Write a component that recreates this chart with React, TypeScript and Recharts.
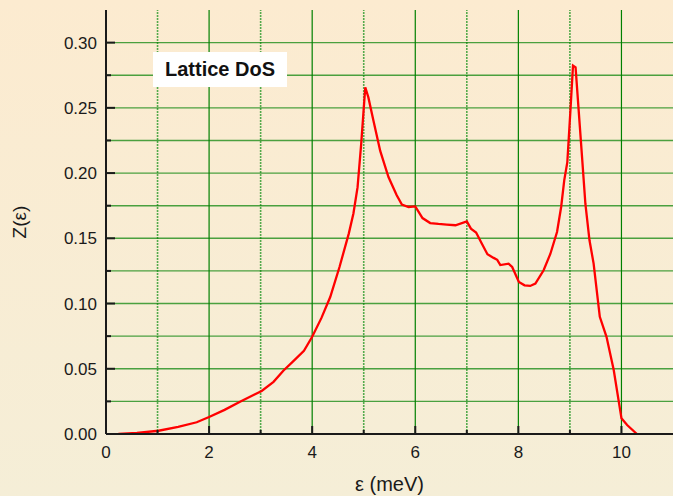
import React from 'react';
import { LineChart, Line, XAxis, YAxis, ReferenceLine } from 'recharts';

const energy = [
  0.24, 0.6, 1.02, 1.4, 1.76, 2.0, 2.3, 2.6, 3.02, 3.25,
  3.44, 3.64, 3.84, 4.0, 4.18, 4.35, 4.53, 4.71, 4.8, 4.88,
  4.95, 5.03, 5.09, 5.19, 5.32, 5.48, 5.64, 5.74, 5.87, 6.0,
  6.14, 6.29, 6.45, 6.61, 6.78, 7.0, 7.08, 7.18, 7.29, 7.4,
  7.52, 7.59, 7.65, 7.81, 7.88, 8.01, 8.12, 8.23, 8.33, 8.49,
  8.62, 8.75, 8.83, 8.89, 8.95, 9.01, 9.06, 9.11, 9.17, 9.24,
  9.3, 9.38, 9.46, 9.58, 9.71, 9.85, 10.0, 10.11, 10.3,
];
const dos = [
  0, 0.0008, 0.0025, 0.0055, 0.009, 0.013, 0.0185, 0.0247, 0.033, 0.04,
  0.0485, 0.056, 0.0638, 0.0745, 0.089, 0.105, 0.128, 0.1536, 0.169, 0.189,
  0.222, 0.2658, 0.258, 0.24, 0.217, 0.197, 0.183, 0.1758, 0.174, 0.1745,
  0.1655, 0.1617, 0.161, 0.1605, 0.16, 0.163, 0.1574, 0.1544, 0.146, 0.1378,
  0.135, 0.1335, 0.1295, 0.1306, 0.128, 0.1166, 0.114, 0.1135, 0.1153, 0.1255,
  0.138, 0.1548, 0.174, 0.1944, 0.2084, 0.248, 0.2824, 0.281, 0.248, 0.2097,
  0.1765, 0.1485, 0.1306, 0.0898, 0.0745, 0.049, 0.012, 0.0069, 0,
];

const xMajor = [0, 2, 4, 6, 8, 10];
const xMinor = [1, 3, 5, 7, 9];
const yMajor = [0, 0.05, 0.1, 0.15, 0.2, 0.25, 0.3];
const yMinor = [0.025, 0.075, 0.125, 0.175, 0.225, 0.275];
const xTicks = [...xMajor, ...xMinor].sort((a, b) => a - b);
const yTicks = [...yMajor, ...yMinor].sort((a, b) => a - b);
const yGrid = yTicks.filter((v) => v > 0);
const xGrid = xTicks.filter((v) => v > 0);

const data = energy.map((e, i) => ({ e, z: dos[i] }));

const INK = '#1a1a1a';
const GRID = '#008000';

const BottomTick = (p: any) => {
  const major = xMajor.includes(p.payload.value);
  return (
    <g>
      <line x1={p.x} x2={p.x} y1={p.y} y2={p.y - (major ? 8 : 4)} stroke={INK} strokeWidth={2} />
      {major && (
        <text x={p.x} y={p.y + 12} dy="0.71em" textAnchor="middle" fill={INK} fontSize={17}>
          {p.payload.value}
        </text>
      )}
    </g>
  );
};

const TopTick = (p: any) => {
  const major = xMajor.includes(p.payload.value);
  return <line x1={p.x} x2={p.x} y1={p.y} y2={p.y + (major ? 8 : 4)} stroke={INK} strokeWidth={2} />;
};

const LeftTick = (p: any) => {
  const major = yMajor.includes(p.payload.value);
  return (
    <g>
      <line x1={p.x} x2={p.x + (major ? 9 : 5)} y1={p.y} y2={p.y} stroke={INK} strokeWidth={2} />
      {major && (
        <text x={p.x - 9} y={p.y} dy="0.36em" textAnchor="end" fill={INK} fontSize={17}>
          {p.payload.value.toFixed(2)}
        </text>
      )}
    </g>
  );
};

const RightTick = (p: any) => (
  <line x1={p.x} x2={p.x - 9} y1={p.y} y2={p.y} stroke={INK} strokeWidth={2} />
);

export default function App() {
  return (
    <div
      style={{
        position: 'fixed',
        left: 0,
        top: 0,
        width: 673,
        height: 496,
        background: 'linear-gradient(to bottom, #FCEBD0, #F5EED7)',
        fontFamily: 'Arial, "Liberation Sans", sans-serif',
        overflow: 'hidden',
      }}
    >
      <LineChart width={673} height={496} data={data} margin={{ top: 10, right: 0, bottom: 30, left: 0 }}>
        <XAxis
          xAxisId="b"
          dataKey="e"
          type="number"
          domain={[0, 11]}
          allowDataOverflow
          ticks={xTicks}
          interval={0}
          orientation="bottom"
          height={32}
          tickLine={false}
          tickSize={0}
          tickMargin={0}
          axisLine={{ stroke: INK, strokeWidth: 2 }}
          tick={BottomTick}
          label={{ value: 'ε (meV)', position: 'bottom', offset: 11, fill: INK, fontSize: 20 }}
        />
        <XAxis
          xAxisId="t"
          type="number"
          domain={[0, 11]}
          allowDataOverflow
          ticks={xTicks}
          interval={0}
          orientation="top"
          height={0}
          tickLine={false}
          tickSize={0}
          tickMargin={0}
          axisLine={{ stroke: INK, strokeWidth: 2 }}
          tick={TopTick}
        />
        <YAxis
          yAxisId="l"
          type="number"
          domain={[0, 0.325]}
          allowDataOverflow
          ticks={yTicks}
          interval={0}
          orientation="left"
          width={106}
          tickLine={false}
          tickSize={0}
          tickMargin={0}
          axisLine={{ stroke: INK, strokeWidth: 2 }}
          tick={LeftTick}
          label={{
            value: 'Z(ε)',
            angle: -90,
            position: 'insideLeft',
            offset: 19,
            fill: INK,
            fontSize: 19,
            style: { textAnchor: 'middle' },
          }}
        />
        <YAxis
          yAxisId="r"
          type="number"
          domain={[0, 0.325]}
          allowDataOverflow
          ticks={yTicks}
          interval={0}
          orientation="right"
          width={0}
          tickLine={false}
          tickSize={0}
          tickMargin={0}
          axisLine={false}
          tick={RightTick}
        />
        {xGrid.map((v) => (
          <ReferenceLine
            key={'vx' + v}
            xAxisId="b"
            yAxisId="l"
            x={v}
            stroke={v % 2 === 0 ? GRID : '#2A9A2A'}
            strokeWidth={v % 2 === 0 ? 1.2 : 1.6}
            strokeDasharray={v % 2 === 0 ? undefined : '2 1'}
            strokeOpacity={v % 2 === 0 ? 1 : 0.8}
          />
        ))}
        {yGrid.map((v) => (
          <ReferenceLine
            key={'hy' + v}
            xAxisId="b"
            yAxisId="l"
            y={v}
            stroke={GRID}
            strokeWidth={1.4}
            strokeOpacity={0.7}
          />
        ))}
        <Line
          xAxisId="b"
          yAxisId="l"
          dataKey="z"
          type="linear"
          stroke="#FF0000"
          strokeWidth={2.3}
          dot={false}
          activeDot={false}
          isAnimationActive={false}
        />
      </LineChart>
      <div
        style={{
          position: 'absolute',
          left: 153,
          top: 52,
          width: 134,
          height: 35,
          background: '#FFFFFF',
          fontWeight: 'bold',
          fontSize: 20,
          lineHeight: '35px',
          textAlign: 'center',
          color: '#111',
        }}
      >
        Lattice DoS
      </div>
    </div>
  );
}
